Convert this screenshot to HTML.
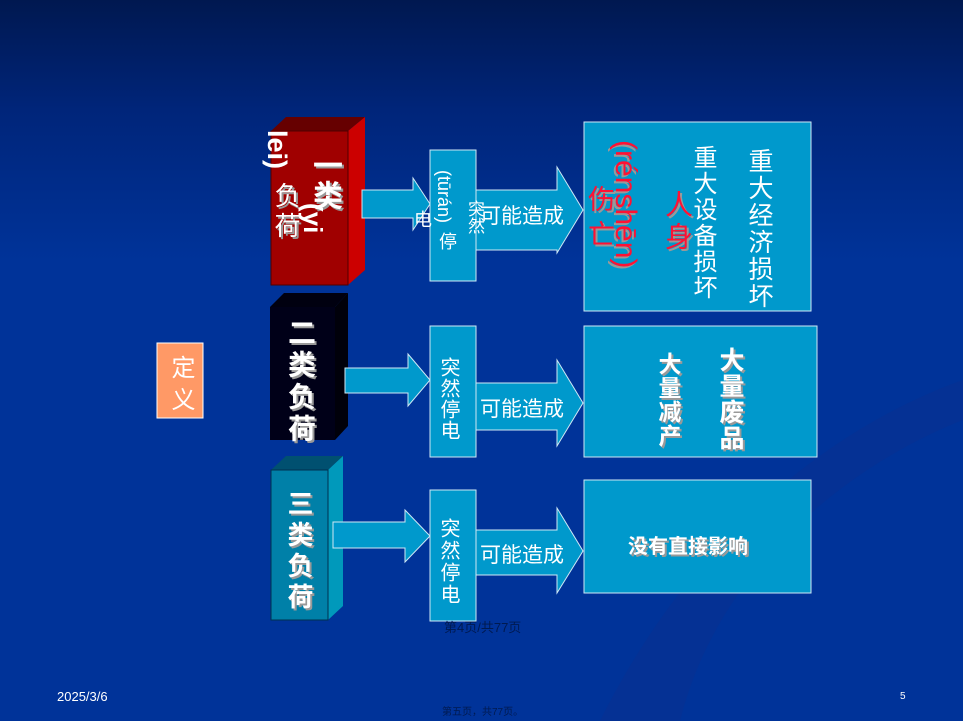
<!DOCTYPE html>
<html><head><meta charset="utf-8"><style>
body{margin:0;width:963px;height:721px;overflow:hidden;background:linear-gradient(#001850 0px,#00257a 110px,#003399 260px,#003399 721px);font-family:"Liberation Sans","Noto Sans CJK SC",sans-serif;position:relative}
.a{position:absolute;color:#fff}
.v{writing-mode:vertical-rl;position:absolute;line-height:1}
.sh{text-shadow:2px 2px 0 #999}
</style></head><body>
<svg width="963" height="721" style="position:absolute;left:0;top:0">
<path d="M600 721 C700 520 850 420 963 380 L963 420 C860 460 720 560 680 721Z" fill="#0a3090" opacity="0.5"/>
<polygon points="271,131 286,117 365,117 348,131" fill="#660000"/>
<polygon points="348,131 365,117 365,270 348,285" fill="#cc0000"/>
<rect x="271" y="131" width="77" height="154" fill="#a00000" stroke="#500000"/>
<polygon points="270,307 284,293 348,293 335,307" fill="#000010"/>
<polygon points="335,307 348,293 348,426 335,440" fill="#00000a"/>
<rect x="270" y="307" width="65" height="133" fill="#000018"/>
<polygon points="271,470 286,456 343,456 328,470" fill="#005070"/>
<polygon points="328,470 343,456 343,606 328,620" fill="#0099bb"/>
<rect x="271" y="470" width="57" height="150" fill="#0080a8" stroke="#003050"/>
<g fill="#0099cc" stroke="#cfe8f5" stroke-width="1">
<polygon points="362,190 413,190 413,178 430,204 413,230 413,218 362,218"/>
<polygon points="345,368 408,368 408,354 430,380 408,406 408,393 345,393"/>
<polygon points="333,522 405,522 405,510 430,536 405,562 405,548 333,548"/>
<polygon points="476,190 557,190 557,167 583,210 557,253 557,250 476,250"/>
<polygon points="476,383 557,383 557,360 583,403 557,446 557,430 476,430"/>
<polygon points="476,530 557,530 557,508 583,551 557,593 557,575 476,575"/>
<rect x="430" y="150" width="46" height="131"/>
<rect x="430" y="326" width="46" height="131"/>
<rect x="430" y="490" width="46" height="131"/>
<rect x="584" y="122" width="227" height="189"/>
<rect x="584" y="326" width="233" height="131"/>
<rect x="584" y="480" width="227" height="113"/>
</g>
<rect x="157" y="343" width="46" height="75" fill="#ff9966" stroke="#fff"/>
</svg>
<div class="v sh" style="left:309px;top:150px;font-size:30px;font-weight:bold;color:#fff">一类</div>
<div class="v sh" style="left:273px;top:182px;font-size:26px;letter-spacing:4px;color:#fff">负荷</div>
<div class="v" style="left:263px;top:130px;font-size:27px;font-weight:bold;color:#fff">lei)</div>
<div class="v" style="left:300px;top:203px;font-size:26px;font-weight:bold;color:#fff">(yi</div>
<div class="v sh" style="left:286px;top:318px;font-size:28px;font-weight:bold;letter-spacing:4px;color:#fff">二类负荷</div>
<div class="v sh" style="left:286px;top:490px;font-size:26px;font-weight:bold;letter-spacing:5px;color:#fff">三类负荷</div>
<div class="v" style="left:435px;top:170px;font-size:18px;color:#fff">(tūrán)</div>
<div class="v" style="left:438px;top:232px;font-size:18px;color:#fff">停</div>
<div class="a" style="left:462px;top:200px;font-size:17px;writing-mode:vertical-rl">突然</div>
<div class="a" style="left:414px;top:206px;font-size:18px">电</div>
<div class="v" style="left:438px;top:357px;font-size:20px;letter-spacing:1px;color:#fff">突然停电</div>
<div class="v" style="left:438px;top:518px;font-size:20px;letter-spacing:2px;color:#fff">突然停电</div>
<div class="a" style="left:480px;top:200px;font-size:21px">可能造成</div>
<div class="a" style="left:480px;top:393px;font-size:21px">可能造成</div>
<div class="a" style="left:480px;top:539px;font-size:21px">可能造成</div>
<div class="v sh" style="left:585px;top:185px;font-size:27px;letter-spacing:8px;color:#ff1133">伤亡</div>
<div class="v sh" style="left:610px;top:140px;font-size:30px;color:#ff1133">(rénshēn)</div>
<div class="v sh" style="left:663px;top:190px;font-size:28px;letter-spacing:4px;color:#ff1133">人身</div>
<div class="v" style="left:690px;top:145px;font-size:24px;letter-spacing:2px;color:#fff">重大设备损坏</div>
<div class="v" style="left:746px;top:148px;font-size:25px;letter-spacing:2px;color:#fff">重大经济损坏</div>
<div class="v sh" style="left:656px;top:352px;font-size:23px;font-weight:bold;letter-spacing:1px;color:#fff">大量减产</div>
<div class="v sh" style="left:717px;top:347px;font-size:25px;font-weight:bold;letter-spacing:1px;color:#fff">大量废品</div>
<div class="a sh" style="left:628px;top:530px;font-size:20px;font-weight:bold">没有直接影响</div>
<div class="v" style="left:168px;top:355px;font-size:24px;letter-spacing:8px;color:#fff">定义</div>
<div class="a" style="left:444px;top:617px;font-size:13px;color:#001a50">第4页/共77页</div>
<div class="a" style="left:57px;top:689px;font-size:13px">2025/3/6</div>
<div class="a" style="left:900px;top:691px;font-size:10px">5</div>
<div class="a" style="left:442px;top:703px;font-size:10px;color:#001a50">第五页，共77页。</div>
</body></html>
